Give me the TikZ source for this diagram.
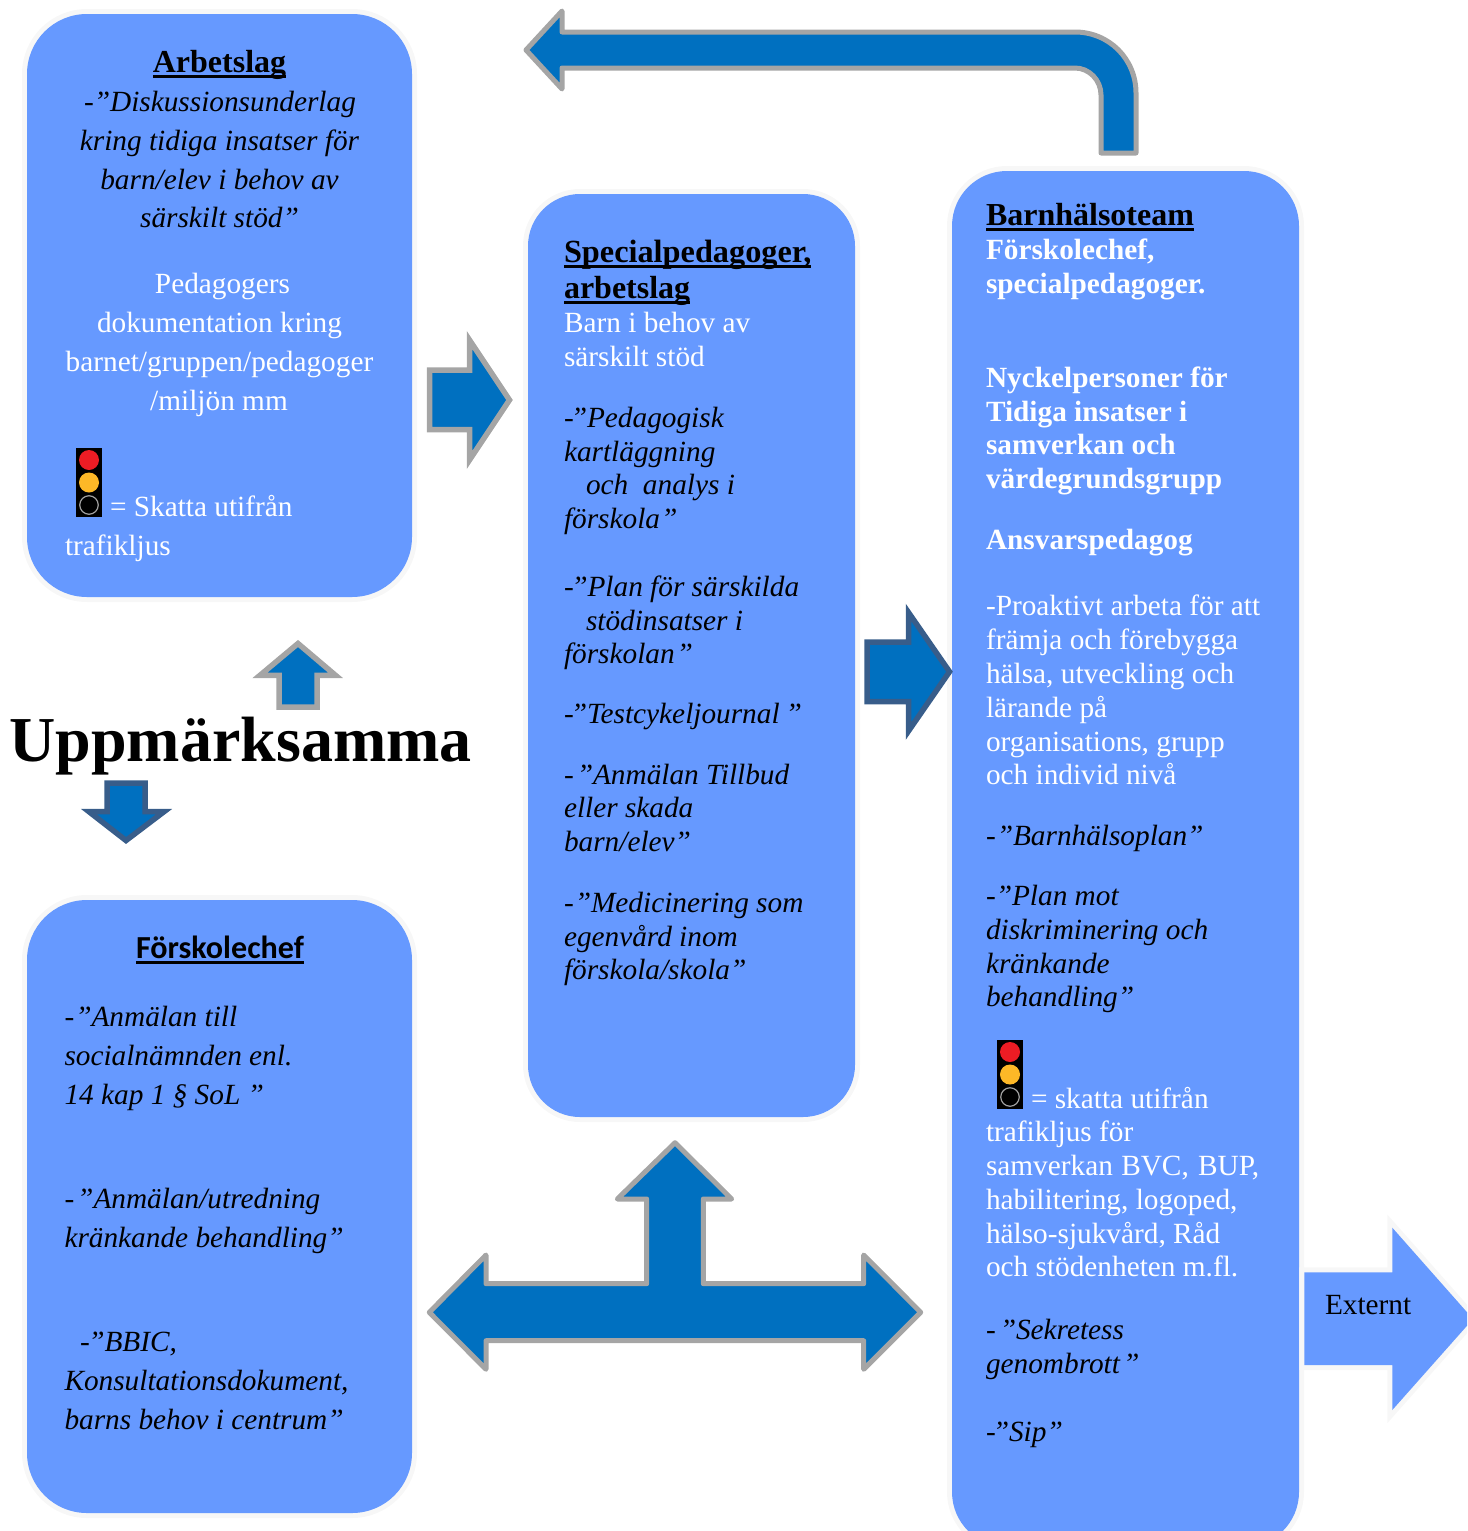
\documentclass[tikz,border=0pt]{standalone}
\usepackage{fontspec}
\setmainfont{Liberation Serif}
\newfontfamily\carlito{Carlito}
\definecolor{boxblue}{HTML}{6699FF}
\definecolor{halo}{HTML}{F7F7F7}
\definecolor{arrowblue}{HTML}{0070C0}
\definecolor{arrowgray}{HTML}{A5A5A5}
\definecolor{arrowdark}{HTML}{385D8A}
\definecolor{lampred}{HTML}{ED1C24}
\definecolor{lampamber}{HTML}{FDB827}
\definecolor{lampring}{HTML}{A0A0A0}
\newcommand\ulbold[1]{\leavevmode\setbox0\hbox{#1}\rlap{\vrule width\wd0 height -2.5pt depth 5.5pt}\box0}
\newcounter{tlc}
\newcommand\tl[4]{\stepcounter{tlc}\node[#1] (line\thetlc) at (#2,#3) {#4};}
\tikzset{
  x=1pt,y=-1pt,
  panel/.style={rectangle,draw=none,fill=boxblue,inner sep=0pt,preaction={draw=halo,line width=10pt}},
  txt/.style={inner sep=0pt,outer sep=0pt,font=\fontsize{29.3}{34}\selectfont},
  wh/.style={txt,text=white,anchor=base west},
  whc/.style={txt,text=white,anchor=base},
  it/.style={txt,text=black,anchor=base west,font=\fontsize{29.3}{34}\selectfont\itshape},
  itc/.style={txt,text=black,anchor=base,font=\fontsize{29.3}{34}\selectfont\itshape},
  wb/.style={txt,text=white,anchor=base west,font=\fontsize{29.3}{34}\selectfont\bfseries},
  hd/.style={txt,text=black,anchor=base west,font=\fontsize{32}{36}\selectfont\bfseries},
  hdc/.style={txt,text=black,anchor=base,font=\fontsize{32}{36}\selectfont\bfseries},
  blockg/.style={draw=arrowgray,fill=arrowblue,line width=5pt,line join=round},
  blockm/.style={draw=arrowgray,fill=arrowblue,line width=5.5pt,line join=miter},
  blockd/.style={draw=arrowdark,fill=arrowblue,line width=5.5pt,line join=miter},
  lamp/.style={circle,inner sep=0pt,minimum size=20pt},
}
\newcommand\trafficlight[3]{%
  \node[rectangle,fill=black,inner sep=0pt,minimum width=26pt,minimum height=69pt] (#3body) at (#1,#2) {};
  \node[lamp,fill=lampred] (#3red) at (#1,#2-22.5) {};
  \node[lamp,fill=lampamber] (#3amber) at (#1,#2) {};
  \node[lamp,fill=black,draw=lampring,line width=1.2pt,minimum size=18.5pt] (#3off) at (#1,#2+22.5) {};
}
\begin{document}
\begin{tikzpicture}
\useasboundingbox (0,0) rectangle (1467,1531);
\clip (0,0) rectangle (1467,1531);
% panels
\node[panel,minimum width=385pt,minimum height=583pt,rounded corners=60pt] (arbetslag) at (219.5,305.5) {};
\node[panel,minimum width=327pt,minimum height=923pt,rounded corners=52pt] (special) at (691.5,655.5) {};
\node[panel,minimum width=347pt,minimum height=1376pt,rounded corners=55pt] (bht) at (1125.5,859) {};
\node[panel,minimum width=385pt,minimum height=613pt,rounded corners=60pt] (chef) at (219.5,1206.5) {};
% Externt arrow
\path[fill=boxblue,preaction={draw=halo,line width=10pt,line join=miter}] (1304.3,1272.3) -- (1392.3,1272.3) -- (1392.3,1227.7) -- (1473,1319) -- (1392.3,1410) -- (1392.3,1365) -- (1304.3,1365) -- cycle;
% block arrows
\path[blockg] (526,50) -- (562,11) -- (562,32) -- (1075,32) .. controls (1109,32) and (1136,59) .. (1136,93) -- (1136,153) -- (1101,153) -- (1101,95) .. controls (1101,80) and (1089,68) .. (1075,68) -- (562,68) -- (562,89) -- cycle;
\path[blockg] (675,1142.7) -- (731.7,1199) -- (703.3,1199) -- (703.3,1283.7) -- (863.7,1283.7) -- (863.7,1255) -- (920.7,1312.3) -- (863.7,1369.3) -- (863.7,1340.7) -- (486,1340.7) -- (486,1369.3) -- (429.3,1312.3) -- (486,1255) -- (486,1283.7) -- (646.7,1283.7) -- (646.7,1199) -- (617.3,1199) -- cycle;
\path[blockm] (429.5,370) -- (469.5,370) -- (469.5,340) -- (509.5,400) -- (469.5,460) -- (469.5,429.7) -- (429.5,429.7) -- cycle;
\path[blockd] (867,642) -- (908.5,642) -- (908.5,612.5) -- (949.5,671.7) -- (908.5,731) -- (908.5,701.5) -- (867,701.5) -- cycle;
\path[blockm] (298,643.5) -- (335.5,675.3) -- (317,675.3) -- (317,707) -- (279,707) -- (279,675.3) -- (260,675.3) -- cycle;
\path[blockd] (107,783) -- (145,783) -- (145,811.7) -- (164,811.7) -- (126,840.5) -- (89,811.7) -- (107,811.7) -- cycle;
% title
\tl{txt,text=black,anchor=base west,font=\fontsize{64}{70}\selectfont\bfseries}{9.5}{761}{Uppmärksamma}
% Arbetslag
\tl{hdc}{219.5}{72}{\ulbold{Arbetslag}}
\tl{itc}{220}{111}{-”Diskussionsunderlag}
\tl{itc}{219.5}{150}{kring tidiga insatser för}
\tl{itc}{219.5}{189}{barn/elev i behov av}
\tl{itc}{219.5}{227}{särskilt stöd”}
\tl{whc}{222.5}{293}{Pedagogers}
\tl{whc}{219.5}{332}{dokumentation kring}
\tl{whc}{219.5}{371}{barnet/gruppen/pedagoger}
\tl{whc}{219}{410}{/miljön mm}
\trafficlight{89}{482.5}{tla}
\tl{wh}{110}{516}{= Skatta utifrån}
\tl{wh}{65}{555}{trafikljus}
% Specialpedagoger
\tl{hd,font=\fontsize{32.3}{36}\selectfont\bfseries}{564}{262}{\ulbold{Specialpedagoger,}}
\tl{hd}{564}{298}{\ulbold{arbetslag}}
\tl{wh}{564}{332}{Barn i behov av}
\tl{wh}{564}{366}{särskilt stöd}
\tl{it}{564}{427}{-\kern-3pt”Pedagogisk}
\tl{it}{564}{461}{kartläggning}
\tl{it}{586}{494}{och\ \ analys i}
\tl{it}{564}{528}{förskola\kern1pt”}
\tl{it}{564}{596}{-\kern-2.5pt”Plan för särskilda}
\tl{it}{586}{630}{stödinsatser i}
\tl{it}{564}{663}{förskolan\kern2pt”}
\tl{it}{564}{723}{-\kern-3pt”Testcykeljournal\kern6pt”}
\tl{it}{564}{784}{-\kern3pt”Anmälan Tillbud}
\tl{it}{564}{817}{eller skada}
\tl{it}{564}{851}{barn/elev”}
\tl{it}{564}{912}{-\kern1pt”Medicinering som}
\tl{it}{564}{946}{egenvård inom}
\tl{it}{564}{979}{förskola/skola”}
% Barnhälsoteam
\tl{hd}{986}{225}{\ulbold{Barnhälsoteam}}
\tl{wb}{986}{259}{Förskolechef,}
\tl{wb}{986}{293}{specialpedagoger.}
\tl{wb}{986}{387}{Nyckelpersoner för}
\tl{wb}{986}{421}{Tidiga insatser i}
\tl{wb}{986}{454}{samverkan och}
\tl{wb}{986}{488}{värdegrundsgrupp}
\tl{wb}{986}{549}{Ansvarspedagog}
\tl{wh}{986}{615}{-Proaktivt arbeta för att}
\tl{wh}{986}{649}{främja och förebygga}
\tl{wh}{986}{683}{hälsa, utveckling och}
\tl{wh}{986}{717}{lärande på}
\tl{wh}{986}{751}{organisations, grupp}
\tl{wh}{986}{784}{och individ nivå}
\tl{it}{986}{845}{-\kern1pt”Barnhälsoplan”}
\tl{it}{986}{905}{-”Plan mot}
\tl{it}{986}{939}{diskriminering och}
\tl{it}{986}{973}{kränkande}
\tl{it}{986}{1006}{behandling”}
\trafficlight{1010}{1074.5}{tlb}
\tl{wh}{1031}{1108}{= skatta utifrån}
\tl{wh}{986}{1141}{trafikljus för}
\tl{wh}{986}{1175}{samverkan\kern1pt\ BVC,\kern2pt\ BUP,}
\tl{wh}{986}{1209}{habilitering, logoped,}
\tl{wh}{986}{1243}{hälso-sjukvård, Råd}
\tl{wh}{986}{1276}{och stödenheten m.fl.}
\tl{it}{986}{1339}{-\kern4pt”Sekretess}
\tl{it}{986}{1373}{genombrott\kern3pt”}
\tl{it}{986}{1441}{-\kern-3pt”Sip”}
% Förskolechef
\tl{txt,text=black,anchor=base,font=\fontsize{32.1}{36}\selectfont\carlito\bfseries}{220}{958}{\ulbold{Förskolechef}}
\tl{it}{64.5}{1026}{-\kern1pt”Anmälan till}
\tl{it}{64.5}{1065}{socialnämnden enl.}
\tl{it}{64.5}{1104}{14 kap 1 § SoL ”}
\tl{it}{64.5}{1208}{-\kern3pt”Anmälan/utredning}
\tl{it}{64.5}{1247}{kränkande behandling”}
\tl{it}{80}{1351}{-\kern-1.5pt”BBIC,}
\tl{it}{64.5}{1390}{Konsultationsdokument,}
\tl{it}{64.5}{1429}{barns behov i centrum”}
% Externt
\tl{txt,text=black,anchor=base west}{1325}{1314}{Externt}
\end{tikzpicture}
\end{document}
